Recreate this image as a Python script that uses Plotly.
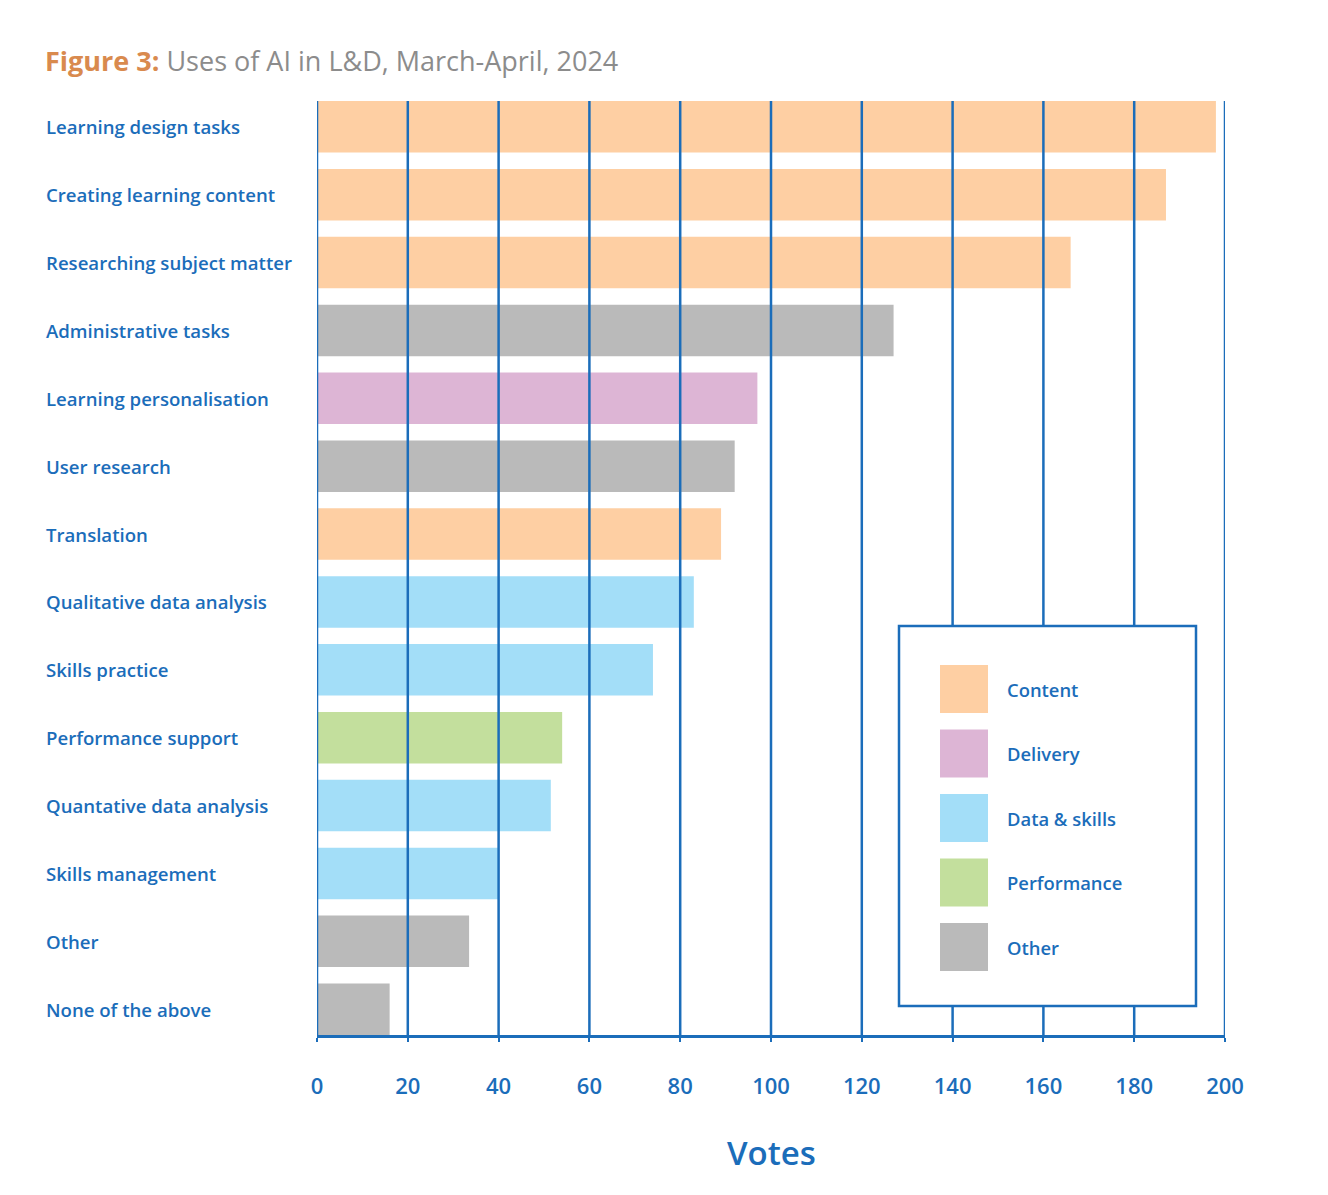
import plotly.graph_objects as go

# ---- data ----
categories = [
    "Learning design tasks", "Creating learning content", "Researching subject matter",
    "Administrative tasks", "Learning personalisation", "User research", "Translation",
    "Qualitative data analysis", "Skills practice", "Performance support",
    "Quantative data analysis", "Skills management", "Other", "None of the above",
]
votes = [198, 187, 166, 127, 97, 92, 89, 83, 74, 54, 51.5, 40, 33.5, 16]
groups = [
    "Content", "Content", "Content", "Other", "Delivery", "Other", "Content",
    "Data & skills", "Data & skills", "Performance", "Data & skills", "Data & skills",
    "Other", "Other",
]
legend_groups = ["Content", "Delivery", "Data & skills", "Performance", "Other"]
group_colors = {
    "Content": "#FECFA3",
    "Delivery": "#DDB5D5",
    "Data & skills": "#A3DEF8",
    "Performance": "#C3DF9D",
    "Other": "#BABABA",
}
x_ticks = [0, 20, 40, 60, 80, 100, 120, 140, 160, 180, 200]

BLUE = "#1B6DBA"
FONT = "Open Sans"

OFF = 8  # page body margin
W, H = 1328 - OFF, 1195 - OFF
L, R, T, B = 317 - OFF, 103, 101 - OFF, 160
pw, ph = W - L - R, H - T - B


def px_x(px):
    return (px - OFF - L) / pw


def px_y(py):
    return (H - B - (py - OFF)) / ph


fig = go.Figure()
fig.add_trace(go.Bar(
    x=votes, y=categories, orientation="h",
    marker=dict(color=[group_colors[g] for g in groups], line=dict(width=0)),
    width=0.76, showlegend=False, hoverinfo="x+y",
))

shapes = []
# vertical grid lines drawn above bars
for t in x_ticks:
    shapes.append(dict(type="line", xref="x", yref="paper", x0=t, x1=t, y0=0, y1=1,
                       line=dict(color=BLUE, width=2.5), layer="above"))

annotations = []
# left-aligned category labels
for c in categories:
    annotations.append(dict(xref="paper", yref="y", x=px_x(44), y=c, text=c,
                            xanchor="left", yanchor="middle", showarrow=False,
                            font=dict(family=FONT, size=18.6, color=BLUE, weight=600)))

# legend box
shapes.append(dict(type="rect", xref="paper", yref="paper",
                   x0=px_x(899), x1=px_x(1196), y0=px_y(1006), y1=px_y(626),
                   line=dict(color=BLUE, width=2.5), fillcolor="white", layer="above"))
for i, g in enumerate(legend_groups):
    top = 665 + i * 64.5
    shapes.append(dict(type="rect", xref="paper", yref="paper",
                       x0=px_x(940), x1=px_x(988), y0=px_y(top + 48), y1=px_y(top),
                       line=dict(width=0), fillcolor=group_colors[g], layer="above"))
    annotations.append(dict(xref="paper", yref="paper", x=px_x(1005), y=px_y(top + 24),
                            text=g, xanchor="left", yanchor="middle", showarrow=False,
                            font=dict(family=FONT, size=18.4, color=BLUE, weight=600)))

# axis title
annotations.append(dict(xref="paper", yref="paper", x=0.5, y=px_y(1152), text="Votes",
                        xanchor="center", yanchor="middle", showarrow=False,
                        font=dict(family=FONT, size=33, color=BLUE, weight=600)))

fig.update_layout(
    width=W, height=H,
    margin=dict(l=L, r=R, t=T, b=B),
    plot_bgcolor="white", paper_bgcolor="white",
    title=dict(
        text="<b>Figure 3:</b> <span style='color:#8C8C8C'>Uses of AI in L&amp;D, March-April, 2024</span>",
        x=(45 - OFF) / W, xanchor="left", y=1 - (62 - OFF) / H, yanchor="middle",
        font=dict(family=FONT, size=27, color="#D98A4E"),
    ),
    xaxis=dict(
        range=[0, 200], tickvals=x_ticks, showgrid=False, zeroline=False,
        showline=True, linecolor=BLUE, linewidth=2.5,
        ticks="outside", ticklen=4, tickwidth=2, tickcolor=BLUE,
        ticklabelstandoff=26,
        tickfont=dict(family=FONT, size=22, color=BLUE, weight=600),
    ),
    yaxis=dict(
        categoryorder="array", categoryarray=categories[::-1],
        range=[-0.38, len(categories) - 1 + 0.38],
        showticklabels=False, showgrid=False, zeroline=False, showline=False,
    ),
    shapes=shapes, annotations=annotations,
    bargap=0.24,
)

fig.write_html("out.html")
